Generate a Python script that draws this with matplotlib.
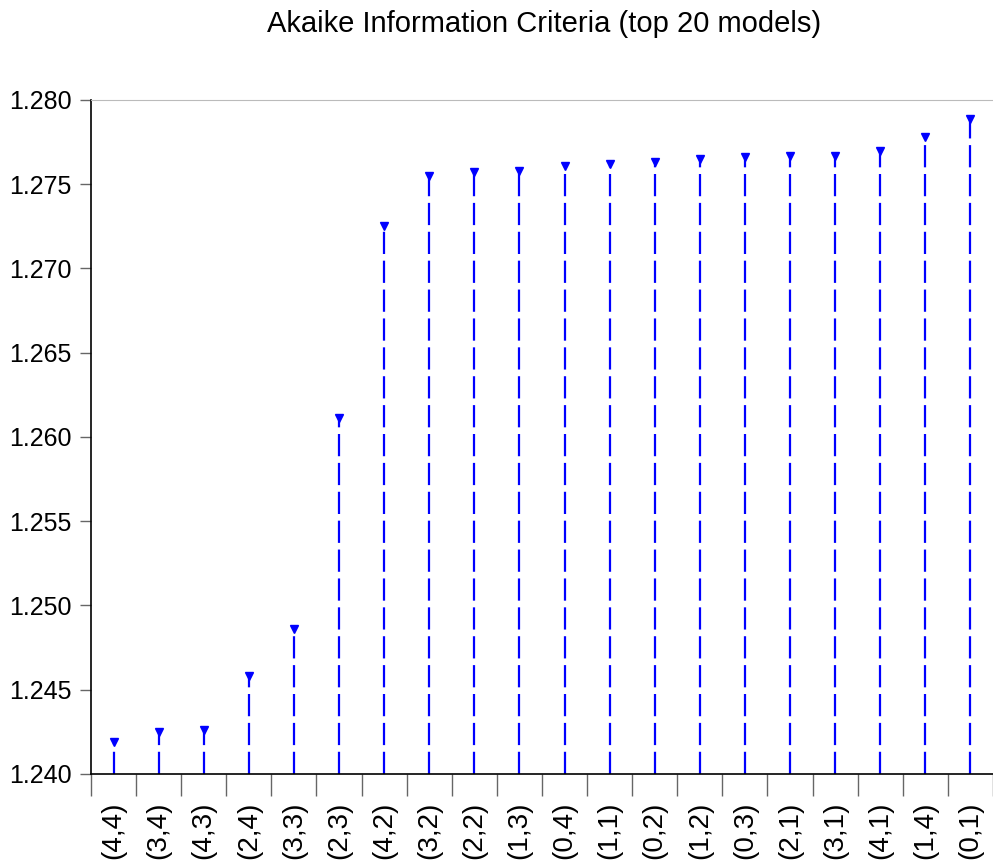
import matplotlib
matplotlib.use('Agg')
import matplotlib.pyplot as plt
from matplotlib.ticker import FixedLocator, NullFormatter

plt.rcParams['font.family'] = ['Liberation Sans', 'DejaVu Sans']

models = ['(4,4)', '(3,4)', '(4,3)', '(2,4)', '(3,3)', '(2,3)', '(4,2)', '(3,2)', '(2,2)', '(1,3)',
          '(0,4)', '(1,1)', '(0,2)', '(1,2)', '(0,3)', '(2,1)', '(3,1)', '(4,1)', '(1,4)', '(0,1)']
aic = [1.2419, 1.2425, 1.2426, 1.2458, 1.2486, 1.2611, 1.2725, 1.2755, 1.2757, 1.2758,
       1.2761, 1.2762, 1.2763, 1.2765, 1.2766, 1.2767, 1.2767, 1.2770, 1.2778, 1.2789]
yticks = [1.240, 1.245, 1.250, 1.255, 1.260, 1.265, 1.270, 1.275, 1.280]

fig = plt.figure(figsize=(9.93, 8.68), dpi=100)
ax = fig.add_axes([0.0916, 0.1083, 0.9084, 0.7765])

x = list(range(len(models)))
base = yticks[0]
ax.vlines(x, base, aic, colors='#0000ff', linewidth=1.6, linestyles=(0, (10, 3)))
ax.plot(x, aic, linestyle='none', marker='v', markersize=6, color='#0000ff')

ax.set_xlim(-0.5, len(models) - 0.5)
ax.set_ylim(yticks[0], yticks[-1])
ax.set_yticks(yticks)
ax.set_yticklabels(['%.3f' % v for v in yticks], fontsize=18)
ax.set_xticks(x)
ax.set_xticklabels(models, rotation=90, fontsize=20)
ax.tick_params(axis='x', which='major', length=0, pad=20)
ax.xaxis.set_minor_locator(FixedLocator([i - 0.5 for i in range(len(models) + 1)]))
ax.xaxis.set_minor_formatter(NullFormatter())
ax.tick_params(axis='x', which='minor', length=16, width=1, color='#666666')
ax.tick_params(axis='y', length=8, width=1, color='#666666', pad=6)

ax.spines['top'].set_color('#bbbbbb')
ax.spines['right'].set_visible(False)
ax.spines['left'].set_linewidth(1.2)
ax.spines['bottom'].set_linewidth(1.2)

fig.text(0.548, 0.972, 'Akaike Information Criteria (top 20 models)', ha='center', va='center', fontsize=21)

fig.savefig('out.png', dpi=100)
